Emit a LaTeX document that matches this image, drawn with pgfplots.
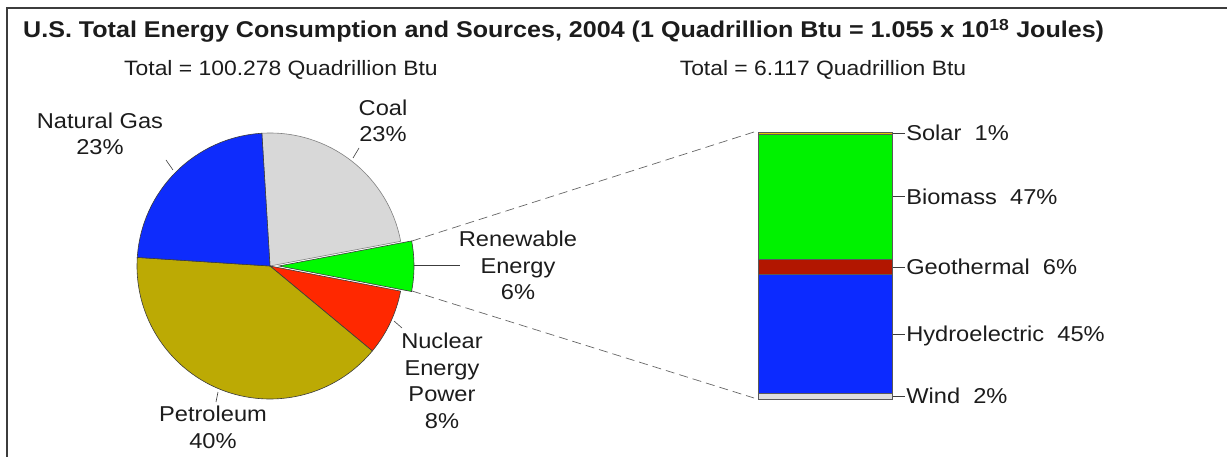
\documentclass[border=0pt]{standalone}
\usepackage{fontspec}
\setmainfont{Liberation Sans}[FakeStretch=1.1]
\usepackage{pgfplots}
\usepackage{pgfplotstable}
\pgfplotsset{compat=1.18}

\definecolor{coalc}{RGB}{216,216,216}
\definecolor{gasc}{RGB}{14,44,252}
\definecolor{petc}{RGB}{188,170,4}
\definecolor{nucc}{RGB}{255,40,0}
\definecolor{renc}{RGB}{0,250,0}
\definecolor{bioc}{RGB}{0,242,0}
\definecolor{geoc}{RGB}{178,22,0}
\definecolor{hydc}{RGB}{12,42,255}
\definecolor{solc}{RGB}{228,196,0}
\definecolor{windc}{RGB}{222,222,222}
\definecolor{txt}{RGB}{28,28,28}
\definecolor{edge}{RGB}{60,60,60}

% pie: shares of U.S. total energy consumption 2004 (%)
\pgfplotstableread{
slice pct
Coal 23
Renewable 6
Nuclear 8
Petroleum 40
NaturalGas 23
}\piedata

% stacked bar: shares of renewable energy (%), bottom to top
\pgfplotstableread{
x wind hydro geo biomass solar
0 2 45 6 47 1
}\bardata

\begin{document}
\begin{tikzpicture}[font=\fontsize{21.5}{26.5}\selectfont, text=txt]
\useasboundingbox (0,0) rectangle (1227pt,457pt);

\pgfplotstablegetelem{0}{pct}\of\piedata \pgfmathsetmacro\pA{\pgfplotsretval}
\pgfplotstablegetelem{1}{pct}\of\piedata \pgfmathsetmacro\pB{\pgfplotsretval}
\pgfplotstablegetelem{2}{pct}\of\piedata \pgfmathsetmacro\pC{\pgfplotsretval}
\pgfplotstablegetelem{3}{pct}\of\piedata \pgfmathsetmacro\pD{\pgfplotsretval}
\pgfplotstablegetelem{4}{pct}\of\piedata \pgfmathsetmacro\pE{\pgfplotsretval}
\pgfmathsetmacro\aO{93.5}
\pgfmathsetmacro\aA{\aO-3.6*\pA}
\pgfmathsetmacro\aB{\aA-3.6*\pB}
\pgfmathsetmacro\aC{\aB-3.6*\pC}
\pgfmathsetmacro\aD{\aC-3.6*\pD}
\pgfmathsetmacro\aE{\aD-3.6*\pE}

\begin{axis}[
  at={(0,0)}, anchor=south west,
  scale only axis, width=1227pt, height=457pt,
  xmin=0, xmax=1227, ymin=0, ymax=457, y dir=reverse,
  hide axis, clip=false]

% frame
\addplot[color=edge, line width=1.6pt, forget plot] coordinates {(7,457) (7,8) (1227,8)};

% pie slices
\fill[coalc, draw=gray, line width=0.6pt] (axis cs:270,266) -- ++(\aO:133pt) arc[start angle=\aO, end angle=\aA, radius=133pt] -- cycle;
\fill[nucc, draw=edge, line width=0.6pt] (axis cs:270,266) -- ++(\aB:133pt) arc[start angle=\aB, end angle=\aC, radius=133pt] -- cycle;
\fill[petc, draw=edge, line width=0.6pt] (axis cs:270,266) -- ++(\aC:133pt) arc[start angle=\aC, end angle=\aD, radius=133pt] -- cycle;
\fill[gasc, draw=edge, line width=0.6pt] (axis cs:270,266) -- ++(\aD:133pt) arc[start angle=\aD, end angle=\aE, radius=133pt] -- cycle;
\fill[renc, draw=edge, line width=0.6pt] (axis cs:279,266) -- ++(\aA:135pt) arc[start angle=\aA, end angle=\aB, radius=135pt] -- cycle;

% dashed connectors
\addplot[gray!80!black, dash pattern=on 9pt off 5pt, line width=0.7pt] coordinates {(412,241) (754,132)};
\addplot[gray!80!black, dash pattern=on 9pt off 5pt, line width=0.7pt] coordinates {(412,291) (754,398)};

% leader lines
\addplot[edge, line width=0.6pt] coordinates {(353,158) (359,148)};
\addplot[edge, line width=0.6pt] coordinates {(166,160) (173,170)};
\addplot[edge, line width=0.6pt] coordinates {(218,392) (216,402)};
\addplot[edge, line width=0.6pt] coordinates {(394,321) (402,328)};
\addplot[edge, line width=0.6pt] coordinates {(414,265) (460,265)};

% titles
\node[anchor=base west, font=\fontsize{22.8}{26}\selectfont\bfseries, inner sep=0pt] at (axis cs:23,38)
  {U.S. Total Energy Consumption and Sources, 2004 (1 Quadrillion Btu = 1.055 x 10\textsuperscript{18} Joules)};
\node[anchor=base, inner sep=0pt, font=\fontsize{20.8}{24}\selectfont] at (axis cs:281,76) {Total = 100.278 Quadrillion Btu};
\node[anchor=base, inner sep=0pt, font=\fontsize{20.8}{24}\selectfont] at (axis cs:823,76) {Total = 6.117 Quadrillion Btu};

% pie labels (anchor=base is the last line's baseline)
\node[align=center, anchor=base, inner sep=0pt] at (axis cs:100,155) {Natural Gas\\23\%};
\node[align=center, anchor=base, inner sep=0pt] at (axis cs:383,142) {Coal\\23\%};
\node[align=center, anchor=base, inner sep=0pt] at (axis cs:518,300) {Renewable\\Energy\\6\%};
\node[align=center, anchor=base, inner sep=0pt] at (axis cs:442,428) {Nuclear\\Energy\\Power\\8\%};
\node[align=center, anchor=base, inner sep=0pt] at (axis cs:213,448) {Petroleum\\40\%};
\end{axis}

\begin{axis}[
  at={(758pt,58pt)}, anchor=south west,
  scale only axis, width=134pt, height=267pt,
  xmin=-0.5, xmax=0.5, ymin=0, ymax=101,
  hide axis, clip=false,
  ybar stacked, bar width=134pt,
  every axis plot/.append style={draw=gray!70!black, line width=0.5pt}]
\addplot[fill=windc] table[x=x, y=wind] {\bardata};
\addplot[fill=hydc] table[x=x, y=hydro] {\bardata};
\addplot[fill=geoc] table[x=x, y=geo] {\bardata};
\addplot[fill=bioc] table[x=x, y=biomass] {\bardata};
\addplot[fill=solc] table[x=x, y=solar] {\bardata};

\draw[edge, line width=0.6pt] (axis cs:0.5,100.5) -- ++(13pt,0pt) node[anchor=base west, yshift=-7.6pt, inner sep=1pt, text=txt] {Solar~~1\%};
\draw[edge, line width=0.6pt] (axis cs:0.5,76.5) -- ++(13pt,0pt) node[anchor=base west, yshift=-7.6pt, inner sep=1pt, text=txt] {Biomass~~47\%};
\draw[edge, line width=0.6pt] (axis cs:0.5,50) -- ++(13pt,0pt) node[anchor=base west, yshift=-7.6pt, inner sep=1pt, text=txt] {Geothermal~~6\%};
\draw[edge, line width=0.6pt] (axis cs:0.5,24.5) -- ++(13pt,0pt) node[anchor=base west, yshift=-7.6pt, inner sep=1pt, text=txt] {Hydroelectric~~45\%};
\draw[edge, line width=0.6pt] (axis cs:0.5,1) -- ++(13pt,0pt) node[anchor=base west, yshift=-7.6pt, inner sep=1pt, text=txt] {Wind~~2\%};
\end{axis}
\end{tikzpicture}
\end{document}
